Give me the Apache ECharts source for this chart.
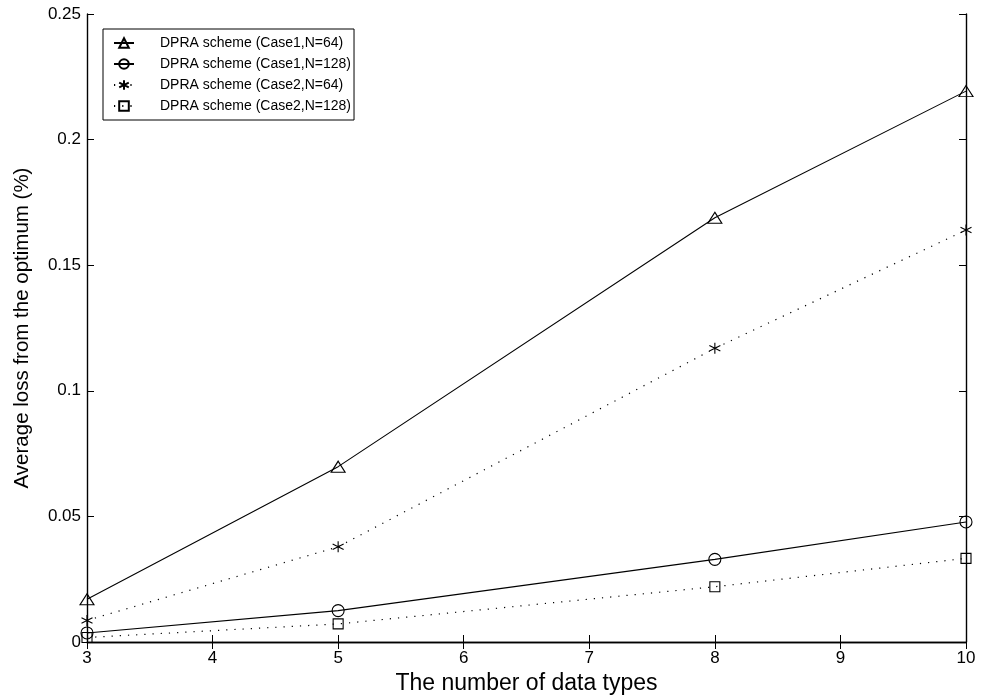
<!DOCTYPE html>
<html>
<head>
<meta charset="utf-8">
<script src="https://cdn.jsdelivr.net/npm/echarts@6/dist/echarts.min.js"></script>
<style>
  html, body { margin: 0; padding: 0; background: #fff; }
  #chart { width: 981px; height: 697px; }
</style>
</head>
<body>
<div id="chart"></div>
<script>
// Number of data types on the x axis
const dataTypes = [3, 5, 8, 10];

// Average loss from the optimum (%) for each scheme
const case1N64 = [0.0170, 0.0698, 0.1689, 0.2193];
const case1N128 = [0.0036, 0.0125, 0.0329, 0.0478];
const case2N64 = [0.0086, 0.0379, 0.1169, 0.1640];
const case2N128 = [0.0018, 0.0072, 0.0220, 0.0333];

const seriesNames = [
  'DPRA scheme (Case1,N=64)',
  'DPRA scheme (Case1,N=128)',
  'DPRA scheme (Case2,N=64)',
  'DPRA scheme (Case2,N=128)'
];

const xTicks = [3, 4, 5, 6, 7, 8, 9, 10];

const FONT = 'Liberation Sans, Arial, Helvetica, sans-serif';
const ASTERISK = 'path://M0,-10L0,10M-8.66,-5L8.66,5M-8.66,5L8.66,-5';

function pairs(ys) {
  return dataTypes.map((x, i) => [x, ys[i]]);
}

function makeSeries(name, ys, symbol, size, dotted) {
  return {
    name: name,
    type: 'line',
    data: pairs(ys),
    xAxisIndex: 0,
    yAxisIndex: 0,
    symbol: symbol,
    symbolSize: size,
    showAllSymbol: true,
    clip: false,
    animation: false,
    lineStyle: dotted
      ? { color: '#000', width: 1.2, type: [1.2, 7] }
      : { color: '#000', width: 1.1, type: 'solid' },
    itemStyle: { color: 'rgba(0,0,0,0)', borderColor: '#000', borderWidth: 1.1 },
    emphasis: { disabled: true }
  };
}

const chart = echarts.init(document.getElementById('chart'), null, { renderer: 'canvas' });

const axisCommon = {
  axisLine: { show: true, lineStyle: { color: '#000', width: 1.4 } },
  axisTick: { show: true, inside: true, length: 7, lineStyle: { color: '#000', width: 1 } },
  splitLine: { show: false }
};

chart.setOption({
  backgroundColor: '#fff',
  animation: false,
  grid: {
    left: 87, right: 15, top: 14, bottom: 55,
    containLabel: false, outerBoundsMode: 'none'
  },
  xAxis: [
    Object.assign({
      type: 'value', min: 3, max: 10, interval: 1, position: 'bottom',
      name: 'The number of data types', nameLocation: 'middle', nameGap: 28,
      nameTextStyle: { fontFamily: FONT, fontSize: 23, color: '#000' },
      axisLabel: {
        fontFamily: FONT, fontSize: 17, color: '#000', margin: 8,
        customValues: xTicks
      }
    }, axisCommon),
    Object.assign({
      type: 'value', min: 3, max: 10, interval: 1, position: 'top',
      axisLabel: { show: false }
    }, axisCommon)
  ],
  yAxis: [
    Object.assign({
      type: 'value', min: 0, max: 0.25, interval: 0.05, position: 'left',
      name: 'Average loss from the optimum (%)', nameLocation: 'middle', nameGap: 54,
      nameTextStyle: { fontFamily: FONT, fontSize: 20.5, color: '#000' },
      axisLabel: {
        fontFamily: FONT, fontSize: 17, color: '#000', margin: 6,
        formatter: v => String(Math.round(v * 100) / 100)
      }
    }, axisCommon),
    Object.assign({
      type: 'value', min: 0, max: 0.25, interval: 0.05, position: 'right',
      axisLabel: { show: false }
    }, axisCommon)
  ],
  legend: {
    show: true,
    orient: 'vertical',
    left: 103,
    top: 29,
    itemWidth: 20,
    itemHeight: 12,
    itemGap: 7,
    padding: [7, 3, 7, 10],
    borderColor: '#000',
    borderWidth: 1,
    backgroundColor: '#fff',
    selectedMode: false,
    textStyle: {
      fontFamily: FONT, fontSize: 14, color: '#000',
      padding: [0, 0, 0, 21]
    },
    data: seriesNames
  },
  series: [
    makeSeries(seriesNames[0], case1N64, 'triangle', [14, 11], false),
    makeSeries(seriesNames[1], case1N128, 'circle', 12, false),
    makeSeries(seriesNames[2], case2N64, ASTERISK, 11, true),
    makeSeries(seriesNames[3], case2N128, 'rect', 10, true)
  ]
});
</script>
</body>
</html>
